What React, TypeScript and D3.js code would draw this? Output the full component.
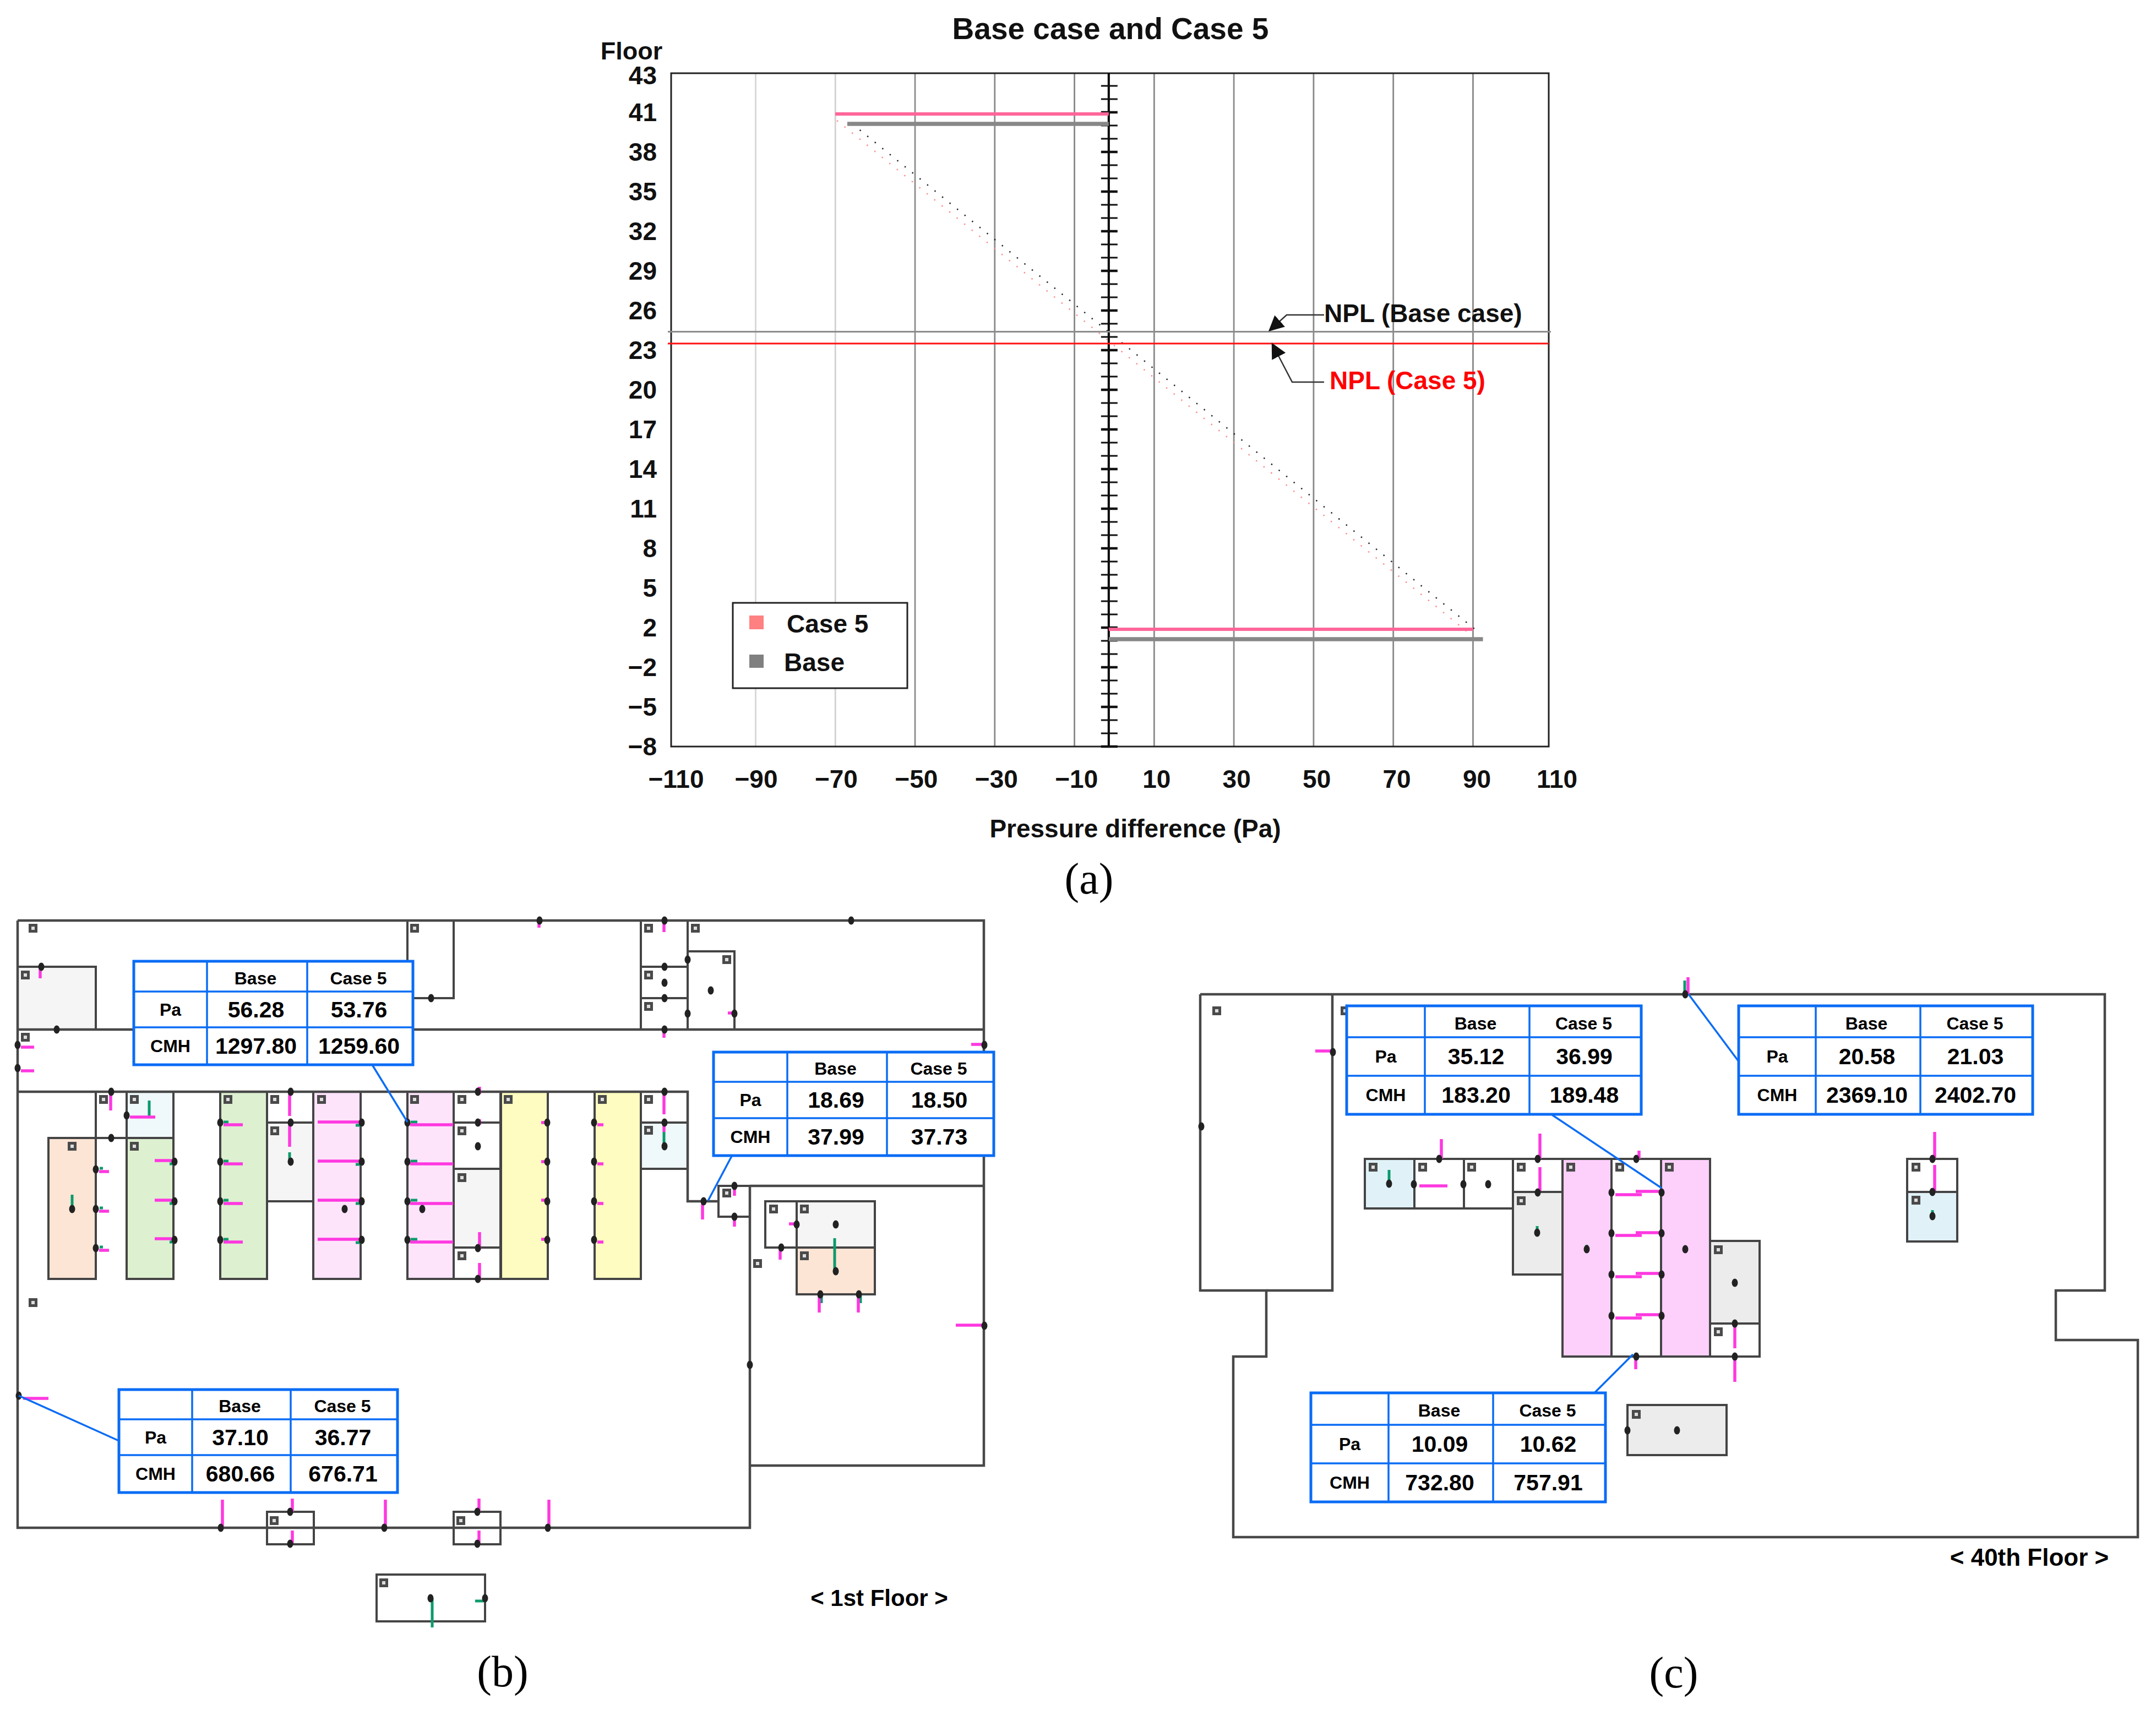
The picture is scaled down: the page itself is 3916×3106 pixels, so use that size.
import React from 'react';
import * as d3 from 'd3';

type Pt = [number, number];
type Seg = [number, number, number, number];
type Room = [number, number, number, number, string];

// ---- panel (a) values ----
const floorLabels = [41, 38, 35, 32, 29, 26, 23, 20, 17, 14, 11, 8, 5, 2, -2, -5, -8];
const pressureLabels = [-110, -90, -70, -50, -30, -10, 10, 30, 50, 70, 90, 110];
const gridPressures = [-90, -70, -50, -30, -10, 10, 30, 50, 70, 90];
const gridShades = ['#d6d6d6', '#d0d0d0', '#8c8c8c', '#888888', '#888888', '#888888', '#8c8c8c', '#888888', '#888888', '#888888'];
const case5Bars = [{ floor: 41, pressure: -70 }, { floor: 2, pressure: 90 }];
const baseBars = [{ floor: 40, pressure: -67 }, { floor: 1, pressure: 92.5 }];
const case5Dots = [{ floor: 40.375, pressure: -69.6 }, { floor: 1.58, pressure: 89 }];
const baseDots = [{ floor: 40.125, pressure: -65.75 }, { floor: 1.58, pressure: 91.7 }];
const nplBase = 24.4;
const nplCase5 = 23.5;

// ---- table values ----
const colHeads = ['Base', 'Case 5'];
const rowHeads = ['Pa', 'CMH'];
const tableB1 = [['56.28', '53.76'], ['1297.80', '1259.60']];
const tableB2 = [['18.69', '18.50'], ['37.99', '37.73']];
const tableB3 = [['37.10', '36.77'], ['680.66', '676.71']];
const tableC1 = [['35.12', '36.99'], ['183.20', '189.48']];
const tableC2 = [['20.58', '21.03'], ['2369.10', '2402.70']];
const tableC3 = [['10.09', '10.62'], ['732.80', '757.91']];

// ---- floor plan colours ----
const ORANGE = '#fde5d5', GREEN = '#ddf0d0', PINK = '#fde4fb', YELLOW = '#fefcc0', GREY = '#f5f5f5', ICE = '#eff8fa';
const PINK2 = '#fdd0fb', GREY2 = '#ececec', ICE2 = '#e0f2f8', NONE = 'none';

// ---- 1st floor plan, drawing units ----
const roomsB: Room[] = [
  [32, 1756, 174, 1870, GREY], [740, 1672, 824, 1813, NONE],
  [1164, 1672, 1249, 1756, NONE], [1164, 1756, 1249, 1813, NONE], [1164, 1813, 1249, 1870, NONE], [1249, 1728, 1334, 1870, NONE],
  [88, 2067, 174, 2323, ORANGE], [174, 1983, 230, 2067, NONE], [230, 1983, 315, 2067, ICE], [230, 2067, 315, 2323, GREEN],
  [400, 1983, 485, 2323, GREEN], [485, 1983, 569, 2039, NONE], [485, 2039, 569, 2182, GREY], [569, 1983, 655, 2323, PINK],
  [740, 1983, 824, 2323, PINK], [824, 1983, 909, 2039, NONE], [824, 2039, 909, 2123, NONE], [824, 2123, 909, 2266, GREY],
  [824, 2266, 909, 2323, NONE], [910, 1983, 995, 2323, YELLOW], [1080, 1983, 1164, 2323, YELLOW],
  [1164, 1983, 1249, 2039, NONE], [1164, 2039, 1249, 2123, ICE], [1305, 2154, 1362, 2210, NONE],
  [1390, 2182, 1447, 2266, NONE], [1447, 2182, 1589, 2266, GREY], [1447, 2266, 1589, 2351, ORANGE],
  [485, 2746, 570, 2805, '#fff'], [824, 2746, 909, 2805, '#fff'], [684, 2860, 881, 2945, NONE],
];
const wallsB: Pt[][] = [
  [[32, 1672], [1787, 1672], [1787, 2662], [1362, 2662]],
  [[1362, 2154], [1362, 2775], [32, 2775], [32, 1672]],
  [[32, 1870], [1787, 1870]],
  [[32, 1983], [1249, 1983], [1249, 2182], [1305, 2182]],
  [[1362, 2154], [1787, 2154]],
];
const iconsB: Pt[] = [
  [60, 1686], [753, 1686], [46, 1771], [46, 1884], [188, 1997], [244, 1997], [414, 1997], [499, 1997], [584, 1997], [753, 1997],
  [839, 1997], [923, 1997], [131, 2082], [244, 2082], [499, 2054], [839, 2054], [839, 2139], [839, 2281], [60, 2366],
  [1178, 1686], [1263, 1686], [1320, 1743], [1178, 1771], [1178, 1828], [1094, 1997], [1178, 1997], [1178, 2053], [1320, 2167],
  [1405, 2196], [1461, 2196], [1461, 2281], [1376, 2295], [498, 2762], [837, 2762], [697, 2875],
];
const nodesB: Pt[] = [
  [75, 1756], [103, 1870], [32, 1898], [32, 1940], [783, 1813], [202, 1983], [528, 1983], [868, 1983], [230, 2026], [202, 2067],
  [400, 2039], [400, 2110], [400, 2182], [400, 2252], [528, 2039], [528, 2110], [657, 2039], [657, 2110], [657, 2182], [657, 2252],
  [317, 2110], [317, 2182], [317, 2252], [174, 2124], [174, 2196], [174, 2267], [131, 2196], [626, 2196], [767, 2196],
  [740, 2039], [740, 2110], [740, 2182], [740, 2252], [868, 2039], [868, 2082], [868, 2267], [868, 2323],
  [980, 1672], [1207, 1672], [1546, 1672], [1207, 1756], [1207, 1785], [1207, 1813], [1249, 1743], [1249, 1841], [1291, 1799],
  [1334, 1841], [1207, 1870], [1788, 1898], [994, 2039], [994, 2110], [994, 2182], [994, 2252], [1079, 2039], [1079, 2110],
  [1079, 2182], [1079, 2252], [1207, 1983], [1207, 2039], [1207, 2082], [1278, 2182], [1334, 2154], [1334, 2210], [1447, 2224],
  [1518, 2224], [1419, 2266], [1518, 2309], [1490, 2351], [1560, 2351], [1788, 2408], [1362, 2479], [34, 2535], [401, 2775],
  [527, 2746], [527, 2804], [698, 2775], [867, 2746], [867, 2804], [995, 2775], [782, 2903], [881, 2903],
];
const pinkB: Seg[] = [
  [73, 1757, 73, 1777], [38, 1902, 62, 1902], [38, 1945, 62, 1945], [201, 1987, 201, 2017], [236, 2029, 282, 2029],
  [526, 1987, 526, 2027], [526, 2043, 526, 2083], [406, 2043, 441, 2043], [406, 2114, 441, 2114], [406, 2186, 441, 2186],
  [406, 2256, 441, 2256], [577, 2038, 657, 2038], [577, 2109, 657, 2109], [577, 2180, 657, 2180], [577, 2251, 657, 2251],
  [281, 2108, 317, 2108], [281, 2180, 317, 2180], [281, 2250, 317, 2250], [180, 2128, 198, 2128], [180, 2200, 198, 2200],
  [180, 2271, 198, 2271], [745, 2043, 823, 2043], [745, 2114, 823, 2114], [745, 2186, 823, 2186], [745, 2256, 823, 2256],
  [871, 1974, 871, 1987], [871, 2033, 871, 2043], [871, 2238, 871, 2270], [871, 2294, 871, 2326], [979, 1673, 979, 1685],
  [1206, 1676, 1206, 1693], [1206, 1872, 1206, 1885], [1764, 1897, 1788, 1897], [1206, 1987, 1206, 2024], [1206, 2040, 1206, 2056],
  [983, 2039, 996, 2039], [983, 2110, 996, 2110], [983, 2180, 996, 2180], [983, 2251, 996, 2251], [1085, 2043, 1096, 2043],
  [1085, 2114, 1096, 2114], [1085, 2186, 1096, 2186], [1085, 2256, 1096, 2256], [1276, 2186, 1276, 2215], [1334, 2156, 1334, 2172],
  [1334, 2212, 1334, 2228], [1433, 2223, 1449, 2223], [1417, 2270, 1417, 2288], [1488, 2354, 1488, 2384], [1559, 2354, 1559, 2384],
  [1736, 2407, 1787, 2407], [1322, 1840, 1337, 1840], [42, 2540, 88, 2540], [404, 2724, 404, 2774], [531, 2722, 531, 2746],
  [531, 2780, 531, 2803], [700, 2724, 700, 2774], [870, 2722, 870, 2746], [870, 2780, 870, 2803], [997, 2724, 997, 2774],
];
const greenB: Seg[] = [
  [271, 1999, 271, 2028], [131, 2170, 131, 2198], [526, 2093, 526, 2112], [1206, 2056, 1206, 2081], [1516, 2249, 1516, 2309],
  [785, 2904, 785, 2956], [863, 2908, 881, 2908], [406, 2038, 415, 2038], [406, 2109, 415, 2109], [406, 2180, 415, 2180],
  [406, 2251, 415, 2251], [746, 2038, 758, 2038], [746, 2109, 758, 2109], [746, 2180, 758, 2180], [746, 2251, 758, 2251],
  [646, 2044, 657, 2044], [646, 2115, 657, 2115], [646, 2186, 657, 2186], [646, 2257, 657, 2257], [308, 2114, 317, 2114],
  [308, 2186, 317, 2186], [308, 2256, 317, 2256], [181, 2122, 187, 2122], [181, 2194, 187, 2194], [181, 2265, 187, 2265],
  [1492, 2354, 1492, 2367], [1563, 2354, 1563, 2367],
];

// ---- 40th floor plan, drawing units ----
const roomsC: Room[] = [
  [2479, 2105, 2569, 2195, ICE2], [2569, 2105, 2659, 2195, NONE], [2659, 2105, 2748, 2195, NONE], [2748, 2105, 2838, 2165, NONE],
  [2748, 2165, 2838, 2315, GREY2], [2838, 2105, 2927, 2464, PINK2], [2927, 2105, 3017, 2464, NONE], [3017, 2105, 3106, 2464, PINK2],
  [3106, 2254, 3196, 2404, GREY2], [3106, 2404, 3196, 2464, NONE], [3464, 2105, 3555, 2165, NONE], [3464, 2165, 3555, 2255, ICE2],
  [2956, 2552, 3136, 2643, GREY2],
];
const wallsC: Pt[][] = [
  [[2180, 1806], [3823, 1806], [3823, 2344], [3734, 2344], [3734, 2434], [3883, 2434], [3883, 2792], [2240, 2792], [2240, 2464],
    [2300, 2464], [2300, 2344], [2180, 2344], [2180, 1806]],
  [[2420, 1806], [2420, 2344], [2300, 2344]],
];
const iconsC: Pt[] = [
  [2210, 1836], [2443, 1836], [2494, 2120], [2584, 2120], [2673, 2120], [2763, 2120], [2763, 2181], [2853, 2120], [2942, 2120], [3032, 2120],
  [3121, 2270], [3121, 2419], [3480, 2120], [3480, 2180], [2972, 2569],
];
const nodesC: Pt[] = [
  [2182, 2046], [2421, 1911], [2614, 2105], [2793, 2105], [2568, 2151], [2658, 2151], [2703, 2151], [2793, 2166], [2972, 2105],
  [2927, 2166], [2927, 2240], [2927, 2315], [2927, 2390], [3018, 2166], [3018, 2240], [3018, 2315], [3018, 2390], [2972, 2464],
  [2523, 2150], [2792, 2239], [2882, 2269], [3061, 1806], [3061, 2269], [3151, 2330], [3151, 2404], [3151, 2464], [3510, 2105],
  [3510, 2165], [3510, 2209], [2956, 2598], [3046, 2598],
];
const pinkC: Seg[] = [
  [2389, 1909, 2421, 1909], [2618, 2069, 2618, 2105], [2578, 2154, 2629, 2154], [2797, 2059, 2797, 2105], [2797, 2120, 2797, 2163],
  [2977, 2090, 2977, 2105], [2934, 2170, 2982, 2170], [2971, 2164, 3017, 2164], [2934, 2244, 2982, 2244], [2971, 2239, 3017, 2239],
  [2934, 2319, 2982, 2319], [2971, 2313, 3017, 2313], [2934, 2394, 2982, 2394], [2971, 2388, 3017, 2388], [2971, 2469, 2971, 2487],
  [3066, 1775, 3066, 1806], [3151, 2408, 3151, 2449], [3151, 2469, 3151, 2510], [3514, 2056, 3514, 2104], [3514, 2116, 3514, 2163],
];
const greenC: Seg[] = [
  [2523, 2125, 2523, 2153], [3060, 1781, 3060, 1808], [2792, 2227, 2792, 2244], [2882, 2261, 2882, 2275], [3510, 2198, 3510, 2214],
  [3151, 2324, 3151, 2335],
];

// ---- callout tables: box edges and the leader to the measured opening ----
const tableFrames = [
  { values: tableB1, xs: [243, 376, 558, 750], ys: [1746, 1801, 1866, 1934], leader: [676, 1934, 740, 2038] },
  { values: tableB2, xs: [1296, 1430, 1611, 1805], ys: [1911, 1965, 2031, 2099], leader: [1329, 2100, 1286, 2181] },
  { values: tableB3, xs: [216, 349, 528, 722], ys: [2524, 2578, 2643, 2711], leader: [216, 2617, 34, 2535] },
  { values: tableC1, xs: [2446, 2588, 2778, 2981], ys: [1827, 1884, 1954, 2024], leader: [2819, 2025, 3018, 2158] },
  { values: tableC2, xs: [3158, 3298, 3488, 3692], ys: [1827, 1884, 1954, 2024], leader: [3158, 1928, 3067, 1806] },
  { values: tableC3, xs: [2381, 2522, 2712, 2916], ys: [2530, 2588, 2658, 2728], leader: [2897, 2529, 2966, 2460] },
];

const SANS = "'Liberation Sans', Arial, sans-serif";
const SERIF = "'Liberation Serif', 'Times New Roman', serif";
const BLUE = '#0a6cf5';

const x = d3.scaleLinear().domain([-111.2, 109]).range([1219, 2813]);
const xLabel = d3.scaleLinear().domain([-110, 110]).range([1228, 2828]);
// there is no floor 0, so floors below ground shift up by one place
const yRank = d3.scaleLinear().domain([41, -7]).range([204, 1356]);
const y = (f: number) => yRank(f > 0 ? f : f + 1);
const plan = d3.scaleIdentity();
const allFloors = d3.range(43, -9, -1).filter(f => f !== 0);
const axisAt = x(-1.4);
const dotLine = d3.line<{ floor: number; pressure: number }>().x(d => x(d.pressure)).y(d => y(d.floor));
const wallLine = d3.line<Pt>().x(d => plan(d[0])).y(d => plan(d[1]));

const Stubs: React.FC<{ segs: Seg[]; color: string; w: number }> = ({ segs, color, w }) => (
  <g stroke={color} strokeWidth={w}>
    {segs.map((s, i) => <line key={i} x1={plan(s[0])} y1={plan(s[1])} x2={plan(s[2])} y2={plan(s[3])} />)}
  </g>
);

const Plan: React.FC<{ rooms: Room[]; walls: Pt[][]; icons: Pt[]; nodes: Pt[]; pink: Seg[]; green: Seg[] }> =
  ({ rooms, walls, icons, nodes, pink, green }) => (
    <g>
      {rooms.map((r, i) => (
        <rect key={i} x={plan(r[0])} y={plan(r[1])} width={r[2] - r[0]} height={r[3] - r[1]}
          fill={r[4]} stroke="#444" strokeWidth={4} />
      ))}
      {walls.map((w, i) => <path key={i} d={wallLine(w) as string} fill="none" stroke="#484848" strokeWidth={4.5} />)}
      {icons.map((p, i) => (
        <g key={i}>
          <rect x={plan(p[0]) - 8} y={plan(p[1]) - 8} width={16} height={16} fill="#4a4a4a" />
          <rect x={plan(p[0]) - 3} y={plan(p[1]) - 3} width={6} height={6} fill="#ddd" />
        </g>
      ))}
      <Stubs segs={green} color="#0c9a6c" w={5} />
      <Stubs segs={pink} color="#ff38e0" w={5.5} />
      {nodes.map((p, i) => <ellipse key={i} cx={plan(p[0])} cy={plan(p[1])} rx={5.5} ry={7.5} fill="#222" />)}
    </g>
  );

const CalloutTable: React.FC<{ frame: typeof tableFrames[number] }> = ({ frame }) => {
  const { values, xs, ys, leader } = frame;
  const mid = (a: number[], i: number) => (a[i] + a[i + 1]) / 2;
  return (
    <g fontFamily={SANS} fontWeight="bold" textAnchor="middle" dominantBaseline="central">
      <line x1={leader[0]} y1={leader[1]} x2={leader[2]} y2={leader[3]} stroke={BLUE} strokeWidth={3.5} />
      <rect x={xs[0]} y={ys[0]} width={xs[3] - xs[0]} height={ys[3] - ys[0]} fill="#fff" stroke={BLUE} strokeWidth={5} />
      {[xs[1], xs[2]].map(v => <line key={v} x1={v} x2={v} y1={ys[0]} y2={ys[3]} stroke={BLUE} strokeWidth={3.5} />)}
      {[ys[1], ys[2]].map(v => <line key={v} y1={v} y2={v} x1={xs[0]} x2={xs[3]} stroke={BLUE} strokeWidth={3.5} />)}
      {colHeads.map((t, i) => <text key={t} x={mid(xs, i + 1) - 3} y={mid(ys, 0) + 3} fontSize={32}>{t}</text>)}
      {rowHeads.map((t, i) => <text key={t} x={mid(xs, 0)} y={mid(ys, i + 1)} fontSize={32}>{t}</text>)}
      {values.map((row, r) => row.map((t, c) => (
        <text key={`${r}-${c}`} x={mid(xs, c + 1) - 2} y={mid(ys, r + 1)} fontSize={41}>{t}</text>
      )))}
    </g>
  );
};

const App: React.FC = () => (
  <svg width={3916} height={3106} viewBox="0 0 3916 3106"
    style={{ position: 'absolute', left: 0, top: 0, display: 'block', background: '#fff' }}>
    <defs>
      <marker id="head" viewBox="0 0 10 10" refX="9" refY="5" markerWidth="28" markerHeight="28"
        markerUnits="userSpaceOnUse" orient="auto">
        <path d="M0,0 L10,5 L0,10 Z" fill="#111" />
      </marker>
    </defs>

    {/* panel (a) */}
    <g fontFamily={SANS} fontWeight="bold" fill="#111">
      <text x={2017} y={52} fontSize={55} textAnchor="middle" dominantBaseline="central">Base case and Case 5</text>
      <text x={1147} y={92} fontSize={45} textAnchor="middle" dominantBaseline="central">Floor</text>
      {gridPressures.map((p, i) => (
        <line key={p} x1={x(p)} x2={x(p)} y1={133} y2={1356} stroke={gridShades[i]} strokeWidth={2.8} />
      ))}
      <rect x={1219} y={133} width={1594} height={1223} fill="none" stroke="#222" strokeWidth={3} />
      <line x1={axisAt} x2={axisAt} y1={133} y2={1356} stroke="#000" strokeWidth={4} />
      {allFloors.map(f => {
        const major = floorLabels.includes(f);
        return (
          <line key={f} x1={axisAt - 14} x2={axisAt + 16} y1={y(f)} y2={y(f)} stroke="#111" strokeWidth={major ? 4.5 : 3} />
        );
      })}
      <text x={1193} y={137} fontSize={46} textAnchor="end" dominantBaseline="central">43</text>
      {floorLabels.map(f => (
        <text key={f} x={1193} y={y(f)} fontSize={46} textAnchor="end" dominantBaseline="central">
          {f < 0 ? `\u2212${-f}` : f}
        </text>
      ))}
      {pressureLabels.map(p => (
        <text key={p} x={xLabel(p)} y={1415} fontSize={46} textAnchor="middle" dominantBaseline="central">
          {p < 0 ? `\u2212${-p}` : p}
        </text>
      ))}
      <text x={2062} y={1505} fontSize={46} textAnchor="middle" dominantBaseline="central">Pressure difference (Pa)</text>

      <path d={dotLine(baseDots) as string} fill="none" stroke="#222" strokeWidth={2.5} strokeDasharray="2.5 15" />
      <path d={dotLine(case5Dots) as string} fill="none" stroke="#ff8a8a" strokeWidth={2.5} strokeDasharray="2.5 15" />
      {case5Bars.map(b => (
        <line key={b.floor} x1={axisAt} x2={x(b.pressure)} y1={y(b.floor) + 3} y2={y(b.floor) + 3} stroke="#ff6699" strokeWidth={6} />
      ))}
      {baseBars.map(b => (
        <line key={b.floor} x1={axisAt} x2={x(b.pressure)} y1={y(b.floor) - 3} y2={y(b.floor) - 3} stroke="#888" strokeWidth={7.5} />
      ))}
      <line x1={1213} x2={2817} y1={y(nplBase)} y2={y(nplBase)} stroke="#8c8c8c" strokeWidth={3} />
      <line x1={1213} x2={2813} y1={y(nplCase5)} y2={y(nplCase5)} stroke="#ff1010" strokeWidth={3} />

      <path d="M2405,572 L2337,572 L2306,600" fill="none" stroke="#333" strokeWidth={2.5} markerEnd="url(#head)" />
      <path d="M2405,694 L2347,694 L2311,625" fill="none" stroke="#333" strokeWidth={2.5} markerEnd="url(#head)" />
      <text x={2405} y={569} fontSize={46} dominantBaseline="central">NPL (Base case)</text>
      <text x={2415} y={691} fontSize={46} fill="#ff0000" dominantBaseline="central">NPL (Case 5)</text>

      <rect x={1331} y={1095} width={317} height={155} fill="#fff" stroke="#222" strokeWidth={3} />
      <rect x={1361} y={1118} width={26} height={25} fill="#ff8080" />
      <rect x={1361} y={1189} width={26} height={24} fill="#808080" />
      <text x={1429} y={1133} fontSize={46} dominantBaseline="central">Case 5</text>
      <text x={1424} y={1203} fontSize={46} dominantBaseline="central">Base</text>
    </g>
    <text x={1978} y={1596} fontFamily={SERIF} fontSize={80} textAnchor="middle" dominantBaseline="central">(a)</text>

    {/* panels (b) and (c) */}
    <Plan rooms={roomsB} walls={wallsB} icons={iconsB} nodes={nodesB} pink={pinkB} green={greenB} />
    <Plan rooms={roomsC} walls={wallsC} icons={iconsC} nodes={nodesC} pink={pinkC} green={greenC} />
    {tableFrames.map((f, i) => <CalloutTable key={i} frame={f} />)}
    <g fontFamily={SANS} fontWeight="bold" textAnchor="middle" dominantBaseline="central">
      <text x={1597} y={2902} fontSize={42}>{'< 1st Floor >'}</text>
      <text x={3686} y={2828} fontSize={44}>{'< 40th Floor >'}</text>
    </g>
    <g fontFamily={SERIF} fontSize={80} textAnchor="middle" dominantBaseline="central">
      <text x={913} y={3036}>(b)</text>
      <text x={3040} y={3038}>(c)</text>
    </g>
  </svg>
);

export default App;
